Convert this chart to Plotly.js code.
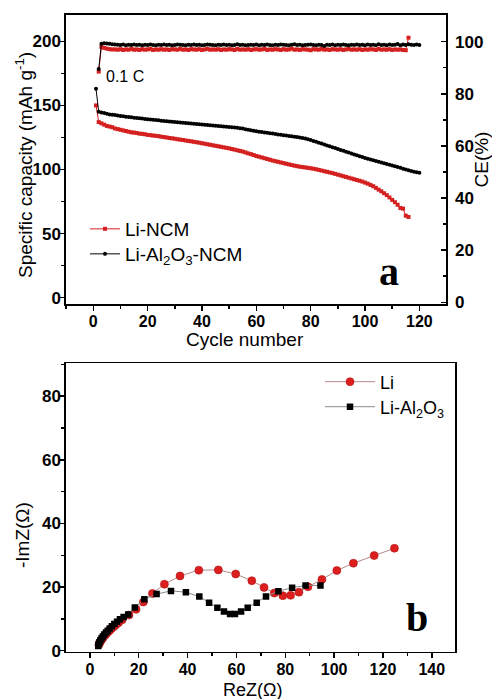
<!DOCTYPE html>
<html>
<head>
<meta charset="utf-8">
<script src="https://cdn.plot.ly/plotly-3.0.1.min.js"></script>
<style>html,body{margin:0;padding:0;background:#fff;}#chart{width:492px;height:699px;}</style>
</head>
<body>
<div id="chart"></div>
<script>
// ---- Panel a: cycling data ----
const cycles = [1,2,3,4,5,6,7,8,9,10,11,12,13,14,15,16,17,18,19,20,21,22,23,24,25,26,27,28,29,30,
31,32,33,34,35,36,37,38,39,40,41,42,43,44,45,46,47,48,49,50,51,52,53,54,55,56,57,58,59,60,
61,62,63,64,65,66,67,68,69,70,71,72,73,74,75,76,77,78,79,80,81,82,83,84,85,86,87,88,89,90,
91,92,93,94,95,96,97,98,99,100,101,102,103,104,105,106,107,108,109,110,111,112,113,114,115,116,117,118,119,120];

// Specific capacity, Li-NCM (cycles 1-116)
const capLiNCM = [150,137,136,135,134,133.5,133,132,131.5,131,
130.5,130,129.5,129,128.8,128.5,128,127.8,127.5,127,
126.8,126.5,126.3,126,125.6,125.3,125,124.6,124.3,124,
123.6,123.3,123,122.6,122.3,122,121.6,121.3,120.9,120.5,
120.1,119.7,119.3,118.9,118.5,118.1,117.7,117.3,116.9,116.5,
116,115.5,115,114.5,114,113.3,112.6,112,111.3,110.5,
110,109.4,108.8,108.2,107.6,107,106.5,106,105.5,105,
104.5,104,103.5,103,102.6,102.2,101.9,101.6,101.3,101,
100.6,100.2,99.7,99.2,98.7,98.2,97.7,97.2,96.6,96,
95.4,94.8,94.2,93.6,93,92.4,91.8,91.2,90.6,89.8,
89,88,87,85.7,84.3,83,81.5,80,78.2,76.3,
74.5,72.5,70,69.5,64,63];

// Specific capacity, Li-Al2O3-NCM (cycles 1-120)
const capLiAlNCM = [163,145,144.5,144,143.5,143,142.8,142.5,142.2,141.8,
141.5,141.2,141,140.7,140.4,140.2,140,139.7,139.4,139.2,
139,138.8,138.6,138.4,138.1,137.9,137.7,137.5,137.3,137.1,
136.9,136.7,136.5,136.3,136.1,135.9,135.7,135.5,135.3,135.1,
134.9,134.7,134.5,134.3,134.1,133.9,133.7,133.5,133.3,133.1,
132.9,132.7,132.5,132.2,131.9,131.5,131.1,130.7,130.3,129.9,
129.5,129.2,128.9,128.6,128.3,128,127.7,127.4,127.1,126.8,
126.5,126.2,125.9,125.6,125.3,125,124.6,124.2,123.6,123,
122.3,121.6,120.9,120.2,119.5,118.8,118.1,117.4,116.7,116,
115.3,114.6,113.9,113.2,112.5,111.8,111.1,110.4,109.7,109,
108.4,107.8,107.2,106.6,106,105.4,104.8,104.3,103.7,103.1,
102.5,101.9,101.3,100.6,100,99.4,98.8,98.2,97.8,97.4];

// Coulombic efficiency (%), Li-NCM (cycles 2-116)
const ceLiNCM = [88.5,98.0,97.6,97.3,97.1,97.0,
97.0,96.9,97.1,96.8,97.0,96.9,97.2,96.9,97.0,96.8,
97.1,96.9,97.0,97.2,96.8,97.0,96.9,97.1,96.9,97.0,
96.8,97.1,97.0,96.9,97.2,96.9,97.0,96.8,97.1,97.0,
96.9,97.1,96.8,97.0,97.2,96.9,97.0,96.9,97.1,96.8,
97.0,96.9,97.1,97.0,96.8,97.2,96.9,97.0,96.9,97.1,
96.8,97.0,97.1,96.9,97.0,97.2,96.8,97.0,96.9,97.1,
97.0,96.8,97.1,96.9,97.0,97.3,96.9,97.0,96.8,97.1,
97.0,96.9,96.7,97.1,97.0,96.9,97.2,96.9,97.0,96.8,
97.1,97.0,96.9,97.1,96.8,97.0,97.2,96.9,97.0,96.9,
97.1,96.8,97.0,96.9,97.1,97.0,96.8,97.2,96.9,97.0,
96.9,97.1,96.8,97.0,96.9,97.0,96.8,96.7,
101.5];

// Coulombic efficiency (%), Li-Al2O3-NCM (cycles 2-120)
const ceLiAlNCM = [89.5,99.2,99.4,99.3,99.2,99.0,
98.9,98.8,98.7,98.9,98.6,98.8,98.7,98.9,98.7,98.8,
98.6,98.8,98.7,98.9,98.7,98.6,98.8,98.7,98.9,98.7,
98.8,98.6,98.7,98.9,98.8,98.7,98.6,98.8,98.7,98.9,
98.7,98.8,98.6,98.7,98.9,98.8,98.7,98.6,98.8,98.7,
98.9,98.7,98.8,98.6,98.7,99.0,98.7,98.8,98.6,98.7,
98.8,98.7,98.9,98.6,98.8,98.7,98.9,98.7,98.6,98.8,
98.7,98.9,98.8,98.7,98.6,98.8,99.0,98.7,98.8,98.6,
98.7,98.8,98.9,98.7,98.6,98.8,98.7,98.3,98.8,98.7,
98.9,98.6,98.8,98.7,98.9,98.7,98.6,98.8,98.7,98.9,
98.7,98.8,98.6,98.9,98.7,98.8,98.6,99.0,98.7,98.8,
98.6,98.9,98.7,98.8,99.1,98.6,98.9,98.7,99.0,98.8,
98.7,98.9,98.7];

// ---- Panel b: Nyquist plots ----
const reZLi = [3.7,4.0,4.4,4.9,5.4,6.0,6.6,7.3,8.0,8.8,9.7,10.6,11.7,13.2,16.0,18.9,21.9,25.6,30.5,36.9,
44.6,52.6,59.7,66.3,71.3,75.5,79.0,82.2,85.6,89.3,95.0,101.1,107.9,116.4,124.7];
const imZLi = [1.9,2.5,3.0,3.6,4.1,4.7,5.2,5.8,6.3,6.9,7.5,8.1,8.8,9.7,11.2,13.0,15.3,18.0,20.9,23.5,
25.3,25.4,24.1,22.0,19.9,18.1,17.3,17.4,18.4,20.1,22.4,25.2,27.5,29.9,32.2];
const reZLiAl = [3.4,3.6,3.9,4.3,4.8,5.3,5.9,6.6,7.3,8.1,9.0,10.0,11.1,12.3,13.8,15.7,18.4,22.3,27.3,33.2,
39.3,44.8,48.8,52.2,54.9,57.4,59.4,61.9,64.6,68.3,72.1,77.2,82.8,88.3,94.4];
const imZLiAl = [1.5,2.1,2.7,3.3,3.9,4.5,5.1,5.7,6.3,7.0,7.7,8.4,9.1,9.9,10.6,11.4,13.6,16.2,17.8,18.8,
18.4,17.0,15.1,13.5,12.3,11.5,11.5,12.3,13.5,15.1,17.0,18.7,19.8,20.5,20.5];

const seriesNames = ['Li-NCM', 'Li-Al<sub>2</sub>O<sub>3</sub>-NCM', 'Li', 'Li-Al<sub>2</sub>O<sub>3</sub>'];
const axisTitles = ['Cycle number', 'Specific capacity (mAh g<sup>-1</sup>)', 'CE(%)', 'ReZ(Ω)', '-ImZ(Ω)'];

const RED = '#d42020';
const BLK = '#000000';
const FONT = 'Arial, "Liberation Sans", sans-serif';

const ceCyclesRed = cycles.slice(1, 1 + ceLiNCM.length);
const ceCyclesBlk = cycles.slice(1, 1 + ceLiAlNCM.length);

const traces = [
  {x: cycles.slice(0, capLiNCM.length), y: capLiNCM, xaxis:'x', yaxis:'y', type:'scatter', mode:'lines+markers',
   name: seriesNames[0], line:{color:RED, width:1}, marker:{symbol:'square', size:4, color:RED}, legend:'legend'},
  {x: cycles.slice(0, capLiAlNCM.length), y: capLiAlNCM, xaxis:'x', yaxis:'y', type:'scatter', mode:'lines+markers',
   name: seriesNames[1], line:{color:BLK, width:1}, marker:{symbol:'circle', size:4, color:BLK}, legend:'legend3'},
  {x: ceCyclesRed, y: ceLiNCM, xaxis:'x', yaxis:'y2', type:'scatter', mode:'lines+markers', showlegend:false,
   name: seriesNames[0] + ' CE', line:{color:RED, width:1}, marker:{symbol:'square', size:4, color:RED}},
  {x: ceCyclesBlk, y: ceLiAlNCM, xaxis:'x', yaxis:'y2', type:'scatter', mode:'lines+markers', showlegend:false,
   name: seriesNames[1] + ' CE', line:{color:BLK, width:1}, marker:{symbol:'circle', size:4, color:BLK}},
  {x: reZLi, y: imZLi, xaxis:'x2', yaxis:'y3', type:'scatter', mode:'lines+markers',
   name: seriesNames[2], line:{color:'#b48a8a', width:1}, marker:{symbol:'circle', size:8, color:'#dc1e1e', line:{color:'#b01515', width:0.6}}, legend:'legend2'},
  {x: reZLiAl, y: imZLiAl, xaxis:'x2', yaxis:'y3', type:'scatter', mode:'lines+markers',
   name: seriesNames[3], line:{color:'#8a8a8a', width:1}, marker:{symbol:'square', size:6.5, color:'#000'}, legend:'legend4'}
];

const yTickFont = {family: FONT, size: 17, color:'#000', weight:'bold'};
const xTickFont = {family: FONT, size: 16, color:'#000', weight:'bold'};
const titleFont = {family: FONT, size: 19, color:'#000'};
const axisBase = {showgrid:false, zeroline:false, showline:true, linecolor:'#000', linewidth:1.6,
  ticks:'outside', ticklen:5, tickwidth:1.5, tickcolor:'#000', tickfont: yTickFont, automargin:false};
const minorOut = {ticks:'outside', ticklen:3, tickwidth:1.5, tickcolor:'#000'};

function legendAt(xpx, ypx, size, itemwidth) {
  return {x: xpx/492, y: 1 - ypx/699, xanchor:'left', yanchor:'middle', bgcolor:'rgba(0,0,0,0)',
    font:{family:FONT, size:size, color:'#000'}, itemwidth:itemwidth, tracegroupgap:0};
}
function label(text, xpx, ypx, size, angle) {
  return {xref:'paper', yref:'paper', x: xpx/492, y: 1 - ypx/699, xanchor:'center', yanchor:'middle',
    showarrow:false, textangle: angle || 0, text: text, font:{family:FONT, size:size, color:'#000'}};
}

const layout = {
  width: 492, height: 699,
  margin: {l:0, r:0, t:0, b:0},
  paper_bgcolor:'#fff', plot_bgcolor:'#fff',
  font: {family: FONT, color:'#000'},
  xaxis: Object.assign({}, axisBase, {domain:[0.1341, 0.9065], anchor:'y', range:[-10.05, 129.8],
    tick0:0, dtick:20, mirror:true, ticklabelstandoff:-3, tickfont:xTickFont,
    minor:Object.assign({dtick:10}, minorOut)}),
  yaxis: Object.assign({}, axisBase, {domain:[0.5651, 0.9785], anchor:'x', range:[-4.9, 220.5],
    tick0:0, dtick:50, ticklabelstandoff:-5,
    minor:Object.assign({dtick:25}, minorOut)}),
  yaxis2: Object.assign({}, axisBase, {overlaying:'y', side:'right', anchor:'x', range:[-0.65, 110.2],
    tick0:0, dtick:20, ticks:'inside', ticklabelstandoff:4,
    minor:{dtick:10, ticks:'inside', ticklen:3, tickwidth:1.5, tickcolor:'#000'},
    title:{text:axisTitles[2], font:titleFont, standoff:2}}),
  xaxis2: Object.assign({}, axisBase, {domain:[0.1341, 0.9248], anchor:'y3', range:[-9.8, 149.5],
    tick0:0, dtick:20, mirror:true, ticklabelstandoff:-2, tickfont:xTickFont,
    minor:Object.assign({dtick:10}, minorOut)}),
  yaxis3: Object.assign({}, axisBase, {domain:[0.0677, 0.4802], anchor:'x2', range:[-0.3, 90.3],
    tick0:0, dtick:20, mirror:true, ticklabelstandoff:-5,
    minor:Object.assign({dtick:10}, minorOut)}),
  legend: legendAt(85, 229, 19, 30),
  legend3: legendAt(85, 254, 19, 30),
  legend2: legendAt(320, 382, 18, 50),
  legend4: legendAt(320, 407, 18, 50),
  annotations: [
    label(axisTitles[0], 244.5, 339, 19),
    label(axisTitles[1], 24, 165, 19, -90),
    label(axisTitles[3], 252.5, 690, 18),
    label(axisTitles[4], 22, 535, 19, -90),
    {xref:'paper', yref:'paper', x:104/492, y:1-76.7/699, xanchor:'left', yanchor:'middle', showarrow:false,
     text:'0.1 C', font:{family:FONT, size:16, color:'#000'}},
    {xref:'paper', yref:'paper', x:389/492, y:1-272/699, xanchor:'center', yanchor:'middle', showarrow:false,
     text:'a', font:{family:'"Liberation Serif", "Times New Roman", serif', size:40, color:'#000', weight:'bold'}},
    {xref:'paper', yref:'paper', x:417/492, y:1-617/699, xanchor:'center', yanchor:'middle', showarrow:false,
     text:'b', font:{family:'"Liberation Serif", "Times New Roman", serif', size:40, color:'#000', weight:'bold'}}
  ]
};

Plotly.newPlot('chart', traces, layout, {staticPlot:true, displayModeBar:false});
</script>
</body>
</html>
